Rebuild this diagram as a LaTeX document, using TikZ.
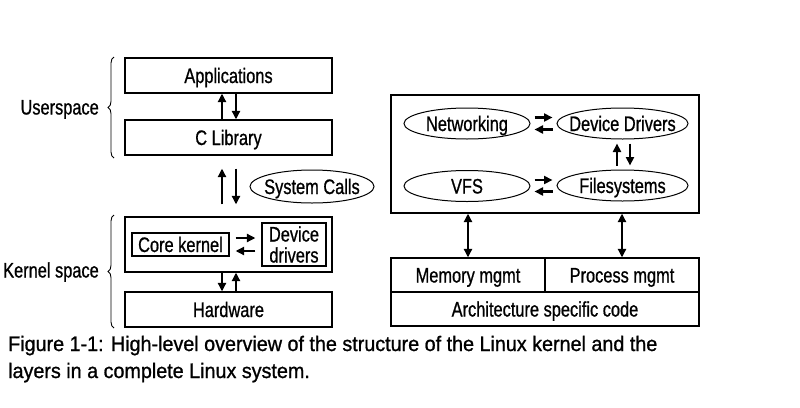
\documentclass[tikz,border=0pt]{standalone}
\usepackage{fontspec}
\setmainfont{Liberation Sans}[FakeStretch=0.78, FakeBold=0.8]
\newfontfamily\capfont{Liberation Sans}[FakeStretch=0.94, FakeBold=1]
\usetikzlibrary{shapes, arrows.meta, positioning, decorations.pathreplacing}

\begin{document}
\begin{tikzpicture}[
                        x=1pt, y=-1pt,
                        every node/.style={font=\fontsize{21}{21}\selectfont, inner sep=0pt},
                        frame/.style={draw, line width=1.2pt},
                        box/.style={frame, text height=15pt, text depth=0pt},
                        oval/.style={ellipse, draw, line width=1pt, inner xsep=-14pt, text height=15pt, text depth=0pt},
                        arr/.style={line width=2.2pt, -{Triangle[length=8.5pt, width=8pt]}},
                        darr/.style={line width=2.2pt, {Triangle[length=8.5pt, width=8pt]}-{Triangle[length=8.5pt, width=8pt]}},
                        brc/.style={decorate, decoration={brace, amplitude=6pt}, line width=0.9pt}
                        ]
                        \useasboundingbox (0,0) rectangle (800,407);

                        % left stack
                        \node [box, minimum width=207pt, minimum height=35pt] (apps) at (228.5,75.5) {Applications};
                        \node [box, minimum width=207pt, minimum height=35pt] (clib) at (228.5,137.5) {C Library};
                        \node [oval, minimum width=124pt, minimum height=33pt] (syscall) at (312,186.5) {System Calls};
                        \node [frame, minimum width=207pt, minimum height=55pt] (kern) at (228.5,244.5) {};
                        \node [box, minimum width=97pt, minimum height=23pt] (core) at (180.5,244.5) {Core kernel};
                        \node [frame, minimum width=64pt, minimum height=43pt, align=center] (devdrv) at (294,244.5) {Device\\drivers};
                        \node [box, minimum width=207pt, minimum height=35pt] (hw) at (228.5,309.5) {Hardware};

                        \draw [brc] (114,158) -- (114,57);
                        \draw [brc] (114,328) -- (114,215);
                        \node [anchor=east, text height=15pt, text depth=0pt] (user) at (99,107) {Userspace};
                        \node [anchor=east, text height=15pt, text depth=0pt] (kspace) at (99,270) {Kernel space};

                        \draw [arr] ([xshift=-6.5pt]clib.north) -- ([xshift=-6.5pt]apps.south);
                        \draw [arr] ([xshift=7.5pt]apps.south) -- ([xshift=7.5pt]clib.north);
                        \draw [arr, shorten <=12pt, shorten >=13pt] ([xshift=-6.5pt]kern.north) -- ([xshift=-6.5pt]clib.south);
                        \draw [arr, shorten <=13pt, shorten >=12pt] ([xshift=7.5pt]clib.south) -- ([xshift=7.5pt]kern.north);
                        \draw [arr, shorten <=6pt, shorten >=6pt] ([yshift=6.5pt]core.east) -- ([yshift=6.5pt]core.east -| devdrv.west);
                        \draw [arr, shorten <=6pt, shorten >=6pt] ([yshift=-6.5pt]devdrv.west) -- ([yshift=-6.5pt]devdrv.west -| core.east);
                        \draw [arr] ([xshift=-6.5pt]kern.south) -- ([xshift=-6.5pt]hw.north);
                        \draw [arr] ([xshift=7.5pt]hw.north) -- ([xshift=7.5pt]kern.south);

                        % right stack
                        \node [frame, minimum width=308pt, minimum height=118pt] (kbox) at (545,154) {};
                        \node [oval, minimum width=126pt, minimum height=31pt] (net) at (467,123.5) {Networking};
                        \node [oval, minimum width=131pt, minimum height=31pt] (ddrv) at (622.5,123.5) {Device Drivers};
                        \node [oval, minimum width=126pt, minimum height=31pt] (vfs) at (467,186) {VFS};
                        \node [oval, minimum width=131pt, minimum height=31pt] (fs) at (622.5,185.5) {Filesystems};
                        \node [box, minimum width=154pt, minimum height=34pt] (mem) at (468,275) {Memory mgmt};
                        \node [box, minimum width=154pt, minimum height=34pt] (proc) at (622,275) {Process mgmt};
                        \node [box, minimum width=308pt, minimum height=34pt] (arch) at (545,309) {Architecture specific code};

                        \draw [arr, shorten <=4pt, shorten >=4pt] ([yshift=6pt]net.east) -- ([yshift=6pt]net.east -| ddrv.west);
                        \draw [arr, shorten <=4pt, shorten >=4pt] ([yshift=-6pt]ddrv.west) -- ([yshift=-6pt]ddrv.west -| net.east);
                        \draw [arr, shorten <=4pt, shorten >=4pt] ([yshift=6pt]vfs.east) -- ([yshift=6pt]vfs.east -| fs.west);
                        \draw [arr, shorten <=4pt, shorten >=4pt] ([yshift=-6pt]fs.west) -- ([yshift=-6pt]fs.west -| vfs.east);
                        \draw [arr, shorten <=4pt, shorten >=4pt] ([xshift=-5.5pt]fs.north) -- ([xshift=-5.5pt]ddrv.south);
                        \draw [arr, shorten <=4pt, shorten >=4pt] ([xshift=7.5pt]ddrv.south) -- ([xshift=7.5pt]fs.north);
                        \draw [darr] (mem.north) -- (mem.north |- kbox.south);
                        \draw [darr] (proc.north) -- (proc.north |- kbox.south);

                        % caption
                        \node [anchor=base west, font=\capfont\fontsize{21}{21}\selectfont] (cap1) at (8,351) {Figure 1-1: High-level overview of the structure of the Linux kernel and the};
                        \node [anchor=base west, font=\capfont\fontsize{21}{21}\selectfont] (cap2) at ([yshift=-27pt]cap1.base west) {layers in a complete Linux system.};
                      \end{tikzpicture}
\end{document}
